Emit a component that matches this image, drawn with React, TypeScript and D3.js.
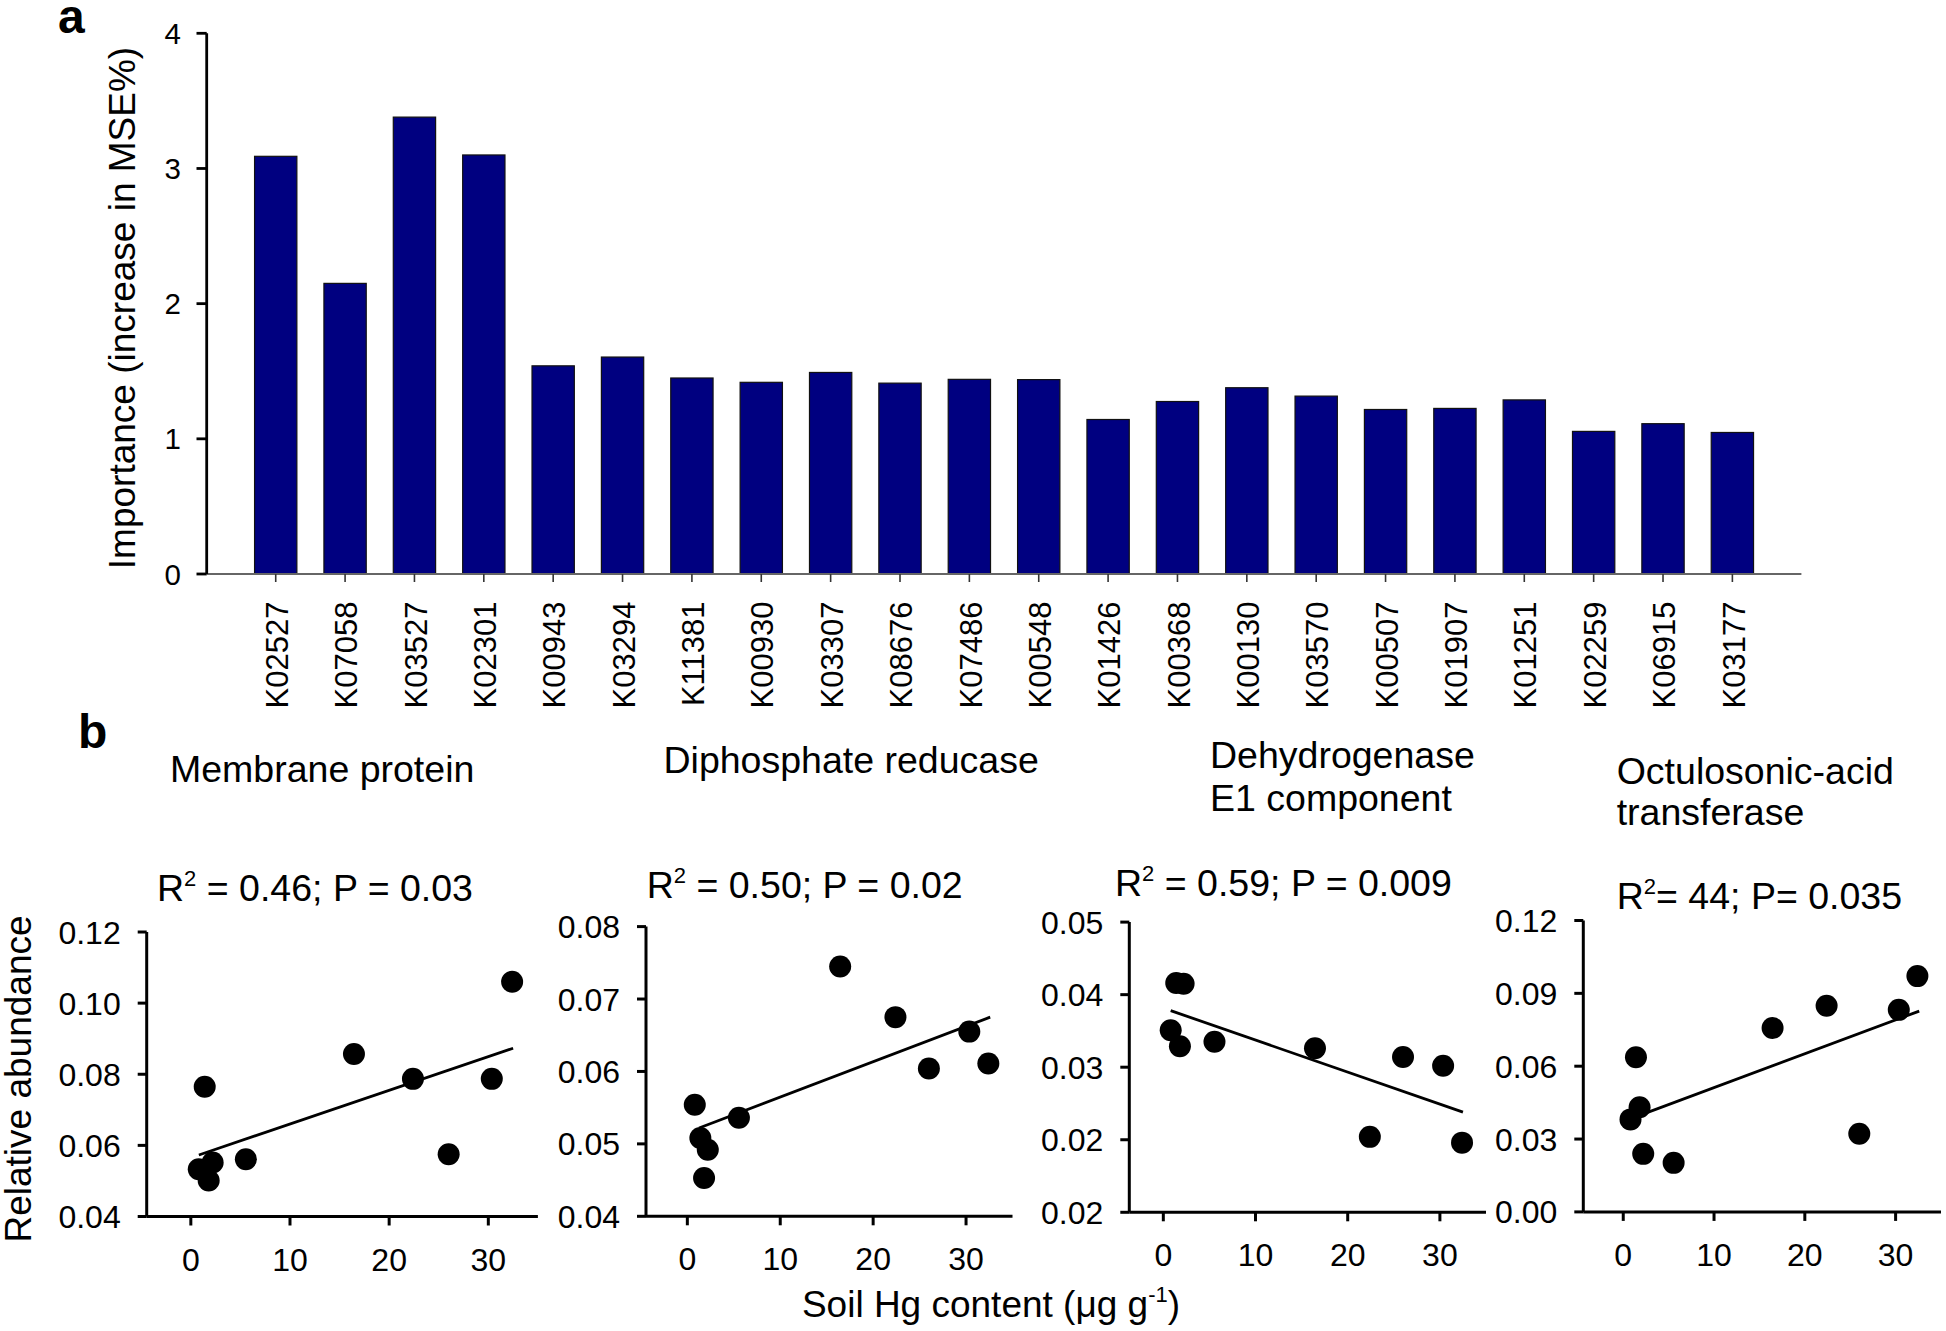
import React from "react";
import * as d3 from "d3";

// ---------- Panel a data ----------
const genes = ["K02527","K07058","K03527","K02301","K00943","K03294","K11381","K00930","K03307","K08676","K07486","K00548","K01426","K00368","K00130","K03570","K00507","K01907","K01251","K02259","K06915","K03177"];
const importance = [3.09,2.15,3.38,3.10,1.54,1.605,1.45,1.418,1.491,1.412,1.44,1.438,1.143,1.276,1.378,1.316,1.217,1.225,1.288,1.055,1.112,1.047];
const importanceTicks = [0,1,2,3,4];

// ---------- Panel b data ----------
const soilHg = [0.8,1.4,1.8,2.2,5.55,16.45,22.4,26.0,30.35,32.4];
const membraneY = [0.0533,0.0765,0.0501,0.0552,0.0561,0.0857,0.0787,0.0575,0.0787,0.106];
const diphosY = [0.0554,0.0508,0.0453,0.0492,0.0536,0.0745,0.0675,0.0604,0.0655,0.0611];
const dehydY = [0.0351,0.0416,0.0329,0.0415,0.0335,0.0326,0.0204,0.0314,0.0302,0.0196];
const octulY = [0.0381,0.0637,0.0431,0.0239,0.0202,0.0757,0.0849,0.0322,0.0832,0.0971];

const membraneFit = [[0.81,0.0573],[32.5,0.0873]];
const diphosFit = [[1.26,0.0522],[32.6,0.0675]];
const dehydFit = [[0.8,0.0378],[32.5,0.0238]];
const octulFit = [[0.92,0.0385],[32.6,0.0827]];

const xTicks = [0,10,20,30];
const membraneTicks = [0.04,0.06,0.08,0.10,0.12];
const membraneTickLabels = ["0.04","0.06","0.08","0.10","0.12"];
const diphosTicks = [0.04,0.05,0.06,0.07,0.08];
const diphosTickLabels = ["0.04","0.05","0.06","0.07","0.08"];
const dehydTicks = [0.01,0.02,0.03,0.04,0.05];
const dehydTickLabels = ["0.02","0.02","0.03","0.04","0.05"];
const octulTicks = [0,0.03,0.06,0.09,0.12];
const octulTickLabels = ["0.00","0.03","0.06","0.09","0.12"];

const FONT = "'Liberation Sans', Arial, Helvetica, sans-serif";

type Panel = {
  title: string[];
  titleX: number;
  titleY: number[];
  stat: [string, string];
  statX: number;
  statY: number;
  ys: number[];
  fit: number[][];
  yTicks: number[];
  yTickLabels: string[];
  yDomain: [number, number];
  xDomain: [number, number];
  xRange: [number, number];
  yRange: [number, number];
};

const panels: Panel[] = [
  {
    title: ["Membrane protein"], titleX: 170, titleY: [782],
    stat: ["R", " = 0.46; P = 0.03"], statX: 157, statY: 901,
    ys: membraneY, fit: membraneFit, yTicks: membraneTicks, yTickLabels: membraneTickLabels,
    yDomain: [0.04, 0.12], xDomain: [-4.45, 35], xRange: [146.7, 537.9], yRange: [1216.5, 932],
  },
  {
    title: ["Diphosphate reducase"], titleX: 663.5, titleY: [773],
    stat: ["R", " = 0.50; P = 0.02"], statX: 646.7, statY: 898,
    ys: diphosY, fit: diphosFit, yTicks: diphosTicks, yTickLabels: diphosTickLabels,
    yDomain: [0.04, 0.08], xDomain: [-4.45, 35], xRange: [646, 1012.5], yRange: [1216.3, 926.6],
  },
  {
    title: ["Dehydrogenase", "E1 component"], titleX: 1210, titleY: [768, 810.5],
    stat: ["R", " = 0.59; P = 0.009"], statX: 1115, statY: 896,
    ys: dehydY, fit: dehydFit, yTicks: dehydTicks, yTickLabels: dehydTickLabels,
    yDomain: [0.01, 0.05], xDomain: [-3.69, 35], xRange: [1129.3, 1486], yRange: [1212.3, 922.1],
  },
  {
    title: ["Octulosonic-acid", "transferase"], titleX: 1616.7, titleY: [784, 824.5],
    stat: ["R", "= 44; P= 0.035"], statX: 1616.7, statY: 909,
    ys: octulY, fit: octulFit, yTicks: octulTicks, yTickLabels: octulTickLabels,
    yDomain: [0, 0.12], xDomain: [-4.4, 35], xRange: [1583.3, 1941], yRange: [1211.9, 920.5],
  },
];

function ScatterPanel({ p }: { p: Panel }) {
  const x = d3.scaleLinear().domain(p.xDomain).range(p.xRange);
  const y = d3.scaleLinear().domain(p.yDomain).range(p.yRange);
  const x0 = x(p.xDomain[0]);
  const x1 = x(p.xDomain[1]);
  const yb = y(p.yDomain[0]);
  const yt = y(p.yDomain[1]);
  const line = d3.line<number[]>().x((d) => x(d[0])).y((d) => y(d[1]));
  return (
    <g>
      {p.title.map((t, i) => (
        <text key={i} x={p.titleX} y={p.titleY[i]} fontSize={37.5} fontFamily={FONT}>{t}</text>
      ))}
      <text x={p.statX} y={p.statY} fontSize={37.5} fontFamily={FONT}>
        <tspan>{p.stat[0]}</tspan>
        <tspan fontSize={22} dy={-15}>2</tspan>
        <tspan dy={15}>{p.stat[1]}</tspan>
      </text>
      {/* axes */}
      <line x1={x0} x2={x1} y1={yb} y2={yb} stroke="#000" strokeWidth={3} />
      <line x1={x0} x2={x0} y1={yb} y2={yt} stroke="#000" strokeWidth={3} />
      {p.yTicks.map((t, i) => (
        <g key={i}>
          <line x1={x0 - 9} x2={x0} y1={y(t)} y2={y(t)} stroke="#000" strokeWidth={3} />
          <text x={x0 - 26} y={y(t)} dy="0.36em" textAnchor="end" fontSize={32} fontFamily={FONT}>{p.yTickLabels[i]}</text>
        </g>
      ))}
      {xTicks.map((t) => (
        <g key={t}>
          <line x1={x(t)} x2={x(t)} y1={yb} y2={yb + 9} stroke="#000" strokeWidth={3} />
          <text x={x(t)} y={yb + 54} textAnchor="middle" fontSize={32} fontFamily={FONT}>{t}</text>
        </g>
      ))}
      <path d={line(p.fit) || ""} fill="none" stroke="#000" strokeWidth={2.8} />
      {soilHg.map((v, i) => (
        <circle key={i} cx={x(v)} cy={y(p.ys[i])} r={11} fill="#000" />
      ))}
    </g>
  );
}

function BarPanel() {
  const x = d3.scaleBand<string>().domain(genes).range([206.7, 1801.4]).paddingInner(0.39).paddingOuter(0.69);
  const y = d3.scaleLinear().domain([0, 4]).range([574, 33.3]);
  const y0 = y(0);
  return (
    <g>
      <text x={58} y={32.5} fontSize={48} fontWeight="bold" fontFamily={FONT}>a</text>
      <text transform={`translate(135,308) rotate(-90)`} textAnchor="middle" fontSize={37} fontFamily={FONT}>
        Importance (increase in MSE%)
      </text>
      {genes.map((g, i) => (
        <rect key={g} x={x(g)} y={y(importance[i])} width={x.bandwidth()} height={y0 - y(importance[i])}
          fill="#000080" stroke="#111" strokeWidth={1.2} />
      ))}
      <line x1={206.7} x2={1801.4} y1={y0} y2={y0} stroke="#666" strokeWidth={2.2} />
      {genes.map((g) => {
        const cx = (x(g) as number) + x.bandwidth() / 2;
        return (
          <g key={g}>
            <line x1={cx} x2={cx} y1={y0} y2={y0 + 8} stroke="#333" strokeWidth={1.6} />
            <text transform={`translate(${cx + 1},601.5) rotate(-90)`} dy="0.36em" textAnchor="end" fontSize={31} fontFamily={FONT}>{g}</text>
          </g>
        );
      })}
      <line x1={206.7} x2={206.7} y1={y(4)} y2={y0} stroke="#000" strokeWidth={2.8} />
      {importanceTicks.map((t) => (
        <g key={t}>
          <line x1={196.5} x2={206.7} y1={y(t)} y2={y(t)} stroke="#000" strokeWidth={2.8} />
          <text x={181} y={y(t)} dy="0.36em" textAnchor="end" fontSize={29.5} fontFamily={FONT}>{t}</text>
        </g>
      ))}
    </g>
  );
}

export default function App() {
  return (
    <svg width={1946} height={1331} viewBox="0 0 1946 1331"
      style={{ position: "absolute", left: 0, top: 0, background: "#fff" }}>
      <rect x={0} y={0} width={1946} height={1331} fill="#fff" />
      <BarPanel />
      <text x={78} y={748} fontSize={48} fontWeight="bold" fontFamily={FONT}>b</text>
      <text transform="translate(31,1079) rotate(-90)" textAnchor="middle" fontSize={37} fontFamily={FONT}>Relative abundance</text>
      {panels.map((p, i) => <ScatterPanel key={i} p={p} />)}
      <text x={991} y={1317} textAnchor="middle" fontSize={37} fontFamily={FONT}>
        <tspan>Soil Hg content (μg g</tspan>
        <tspan fontSize={22} dy={-15}>-1</tspan>
        <tspan dy={15}>)</tspan>
      </text>
    </svg>
  );
}
